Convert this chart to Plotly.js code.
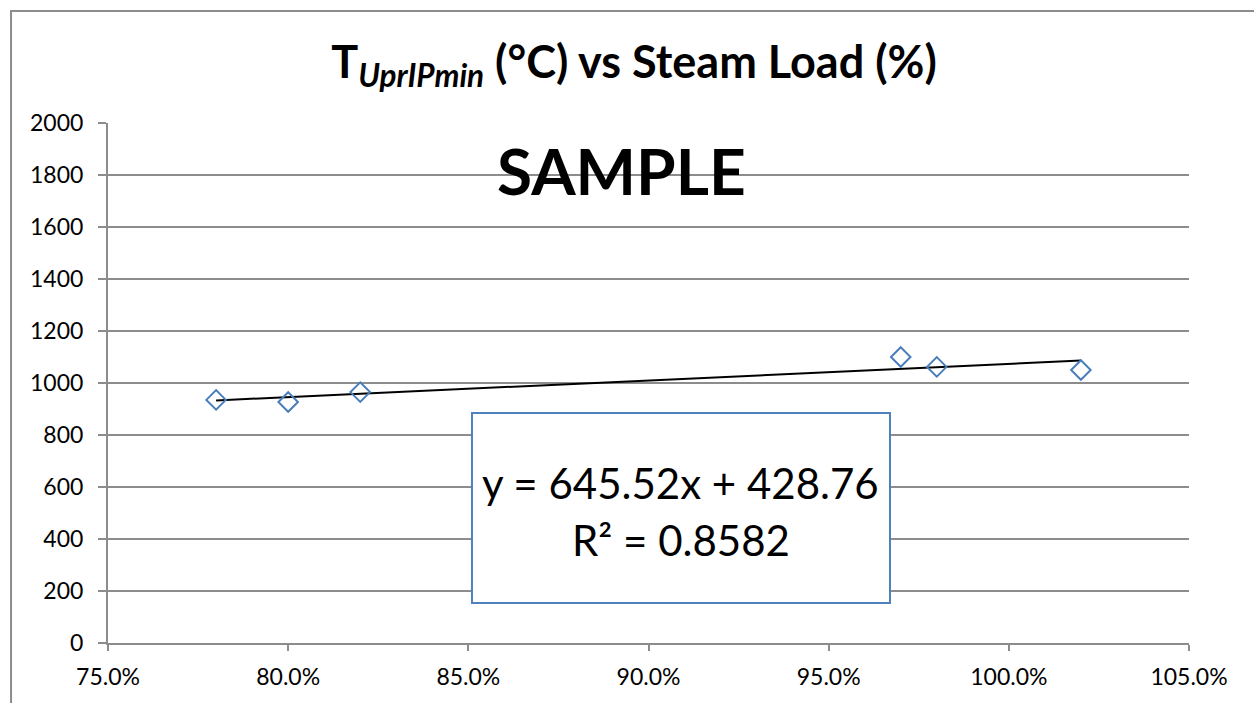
<!DOCTYPE html>
<html>
<head>
<meta charset="utf-8">
<script src="https://cdn.plot.ly/plotly-3.0.1.min.js"></script>
<style>
  html, body { margin: 0; padding: 0; background: #ffffff; }
  #chart { width: 1254px; height: 703px; }
</style>
</head>
<body>
<div id="chart"></div>
<script>
// Data
const steamLoad = [0.78, 0.80, 0.82, 0.97, 0.98, 1.02];
const tempUprIPmin = [935, 927, 965, 1100, 1062, 1050];
const xTickVals = [0.75, 0.80, 0.85, 0.90, 0.95, 1.00, 1.05];
const yTickVals = [0, 200, 400, 600, 800, 1000, 1200, 1400, 1600, 1800, 2000];
const equationText = 'y = 645.52x + 428.76';
const r2Text = 'R² = 0.8582';
const titleText = 'T<sub><i>UprIPmin</i></sub> (°C) vs Steam Load (%)';
const watermark = 'SAMPLE';

// Linear least-squares trendline over the data range
const n = steamLoad.length;
const mx = steamLoad.reduce((a, b) => a + b, 0) / n;
const my = tempUprIPmin.reduce((a, b) => a + b, 0) / n;
let sxy = 0, sxx = 0;
for (let i = 0; i < n; i++) {
  sxy += (steamLoad[i] - mx) * (tempUprIPmin[i] - my);
  sxx += (steamLoad[i] - mx) * (steamLoad[i] - mx);
}
const slope = sxy / sxx;
const intercept = my - slope * mx;
const xMin = Math.min(...steamLoad), xMax = Math.max(...steamLoad);
const trendX = [xMin, xMax];
const trendY = trendX.map(x => slope * x + intercept);

const font = 'Lato, "Open Sans", sans-serif';
const gridColor = '#8c8c8c';

const traces = [
  {
    x: trendX, y: trendY, type: 'scatter', mode: 'lines',
    line: { color: '#000000', width: 2 }, hoverinfo: 'skip', showlegend: false
  },
  {
    x: steamLoad, y: tempUprIPmin, type: 'scatter', mode: 'markers',
    marker: { symbol: 'diamond-open', size: 15, color: '#4a7ebb', line: { width: 2, color: '#4a7ebb' } },
    showlegend: false
  }
];

const layout = {
  width: 1254, height: 703,
  margin: { l: 108, r: 65, t: 123, b: 60 },
  paper_bgcolor: '#ffffff', plot_bgcolor: '#ffffff',
  font: { family: font, color: '#000000', size: 23 },
  title: {
    text: titleText,
    font: { family: font, size: 45, color: '#000000', weight: 'bold' },
    x: 0.5056, xref: 'container', xanchor: 'center',
    y: 0.912, yref: 'container', yanchor: 'middle'
  },
  xaxis: {
    range: [0.75, 1.05], tickvals: xTickVals, tickformat: '.1%',
    showgrid: false, zeroline: false,
    showline: true, linecolor: gridColor, linewidth: 2,
    ticks: 'outside', ticklen: 6, tickcolor: gridColor, tickwidth: 2,
    ticklabelstandoff: 6,
    tickfont: { family: font, size: 23, color: '#000000' }
  },
  yaxis: {
    range: [0, 2000], tickvals: yTickVals,
    showgrid: true, gridcolor: gridColor, gridwidth: 2, zeroline: false,
    showline: true, linecolor: gridColor, linewidth: 2,
    ticks: 'outside', ticklen: 8, tickcolor: gridColor, tickwidth: 2,
    ticklabelstandoff: 10,
    tickfont: { family: font, size: 23, color: '#000000' }
  },
  shapes: [
    // outer chart frame (partially visible at top and left)
    { type: 'rect', xref: 'paper', yref: 'paper', x0: -0.0897, x1: 1.2, y0: -0.3, y1: 1.2154,
      line: { color: gridColor, width: 2 }, fillcolor: 'rgba(0,0,0,0)', layer: 'below' },
    // equation box
    { type: 'rect', xref: 'paper', yref: 'paper', x0: 0.3367, x1: 0.7234, y0: 0.0769, y1: 0.4423,
      line: { color: '#4f81bd', width: 2 }, fillcolor: '#ffffff', layer: 'above' }
  ],
  annotations: [
    { text: watermark, xref: 'paper', yref: 'paper', x: 0.4746, y: 0.9077,
      showarrow: false, xanchor: 'center', yanchor: 'middle',
      font: { family: font, size: 64, color: '#000000', weight: 'bold' } },
    { text: equationText, xref: 'paper', yref: 'paper', x: 0.5300, y: 0.3077,
      showarrow: false, xanchor: 'center', yanchor: 'middle',
      font: { family: font, size: 42, color: '#000000' } },
    { text: r2Text, xref: 'paper', yref: 'paper', x: 0.5300, y: 0.1981,
      showarrow: false, xanchor: 'center', yanchor: 'middle',
      font: { family: font, size: 42, color: '#000000' } }
  ]
};

Plotly.newPlot('chart', traces, layout, { displayModeBar: false, staticPlot: true });
</script>
</body>
</html>
